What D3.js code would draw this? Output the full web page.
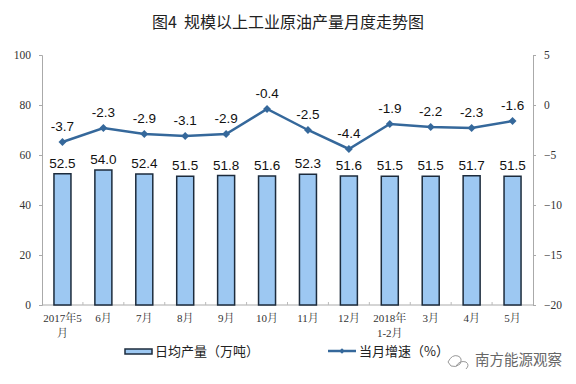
<!DOCTYPE html>
<html><head><meta charset="utf-8">
<script src="https://cdn.jsdelivr.net/npm/d3@7"></script>
<style>body{margin:0;background:#fff}svg{display:block}</style>
</head><body>
<script>
const categories = ["2017年5|月","6月","7月","8月","9月","10月","11月","12月","2018年|1-2月","3月","4月","5月"];
const dailyOutput = [52.5,54.0,52.4,51.5,51.8,51.6,52.3,51.6,51.5,51.5,51.7,51.5];
const growth = [-3.7,-2.3,-2.9,-3.1,-2.9,-0.4,-2.5,-4.4,-1.9,-2.2,-2.3,-1.6];
const leftTicks = [0,20,40,60,80,100];
const rightTicks = [5,0,-5,-10,-15,-20];
const title = "图4\u00a0\u00a0规模以上工业原油产量月度走势图";
const legendBar = "日均产量（万吨）";
const legendLine = "当月增速（%）";
const watermark = "南方能源观察";

const W=576,H=384;
const svg=d3.select("body").append("svg").attr("width",W).attr("height",H);
const L=42,R=533,T=55,B=305;
const x=d3.scaleBand().domain(categories).range([L,R]);
const yL=d3.scaleLinear().domain([0,100]).range([B,T]);
const yR=d3.scaleLinear().domain([-20,5]).range([B,T]);
const serif="'Liberation Serif','Noto Serif CJK SC','Noto Sans CJK SC',serif";
const sans="'Liberation Sans','Noto Sans CJK SC',sans-serif";
const cjk="'Noto Sans CJK SC',sans-serif";

svg.append("text").attr("x",288).attr("y",28).attr("text-anchor","middle")
  .attr("font-family",cjk).attr("font-size",16).attr("font-weight",400).attr("fill","#222").text(title);

// left axis
const gl=svg.append("g").attr("transform",`translate(${L},0)`)
  .call(d3.axisLeft(yL).tickValues(leftTicks).tickSize(3).tickPadding(8));
gl.select(".domain").attr("stroke","#aaa");
gl.selectAll(".tick line").attr("stroke","#aaa");
gl.selectAll("text").attr("font-family",serif).attr("font-size",11.5).attr("fill","#333");

const gr=svg.append("g").attr("transform",`translate(${R},0)`)
  .call(d3.axisRight(yR).tickValues(rightTicks).tickSize(3).tickPadding(8));
gr.select(".domain").attr("stroke","#aaa");
gr.selectAll(".tick line").attr("stroke","#aaa");
gr.selectAll("text").attr("font-family",serif).attr("font-size",11.5).attr("fill","#333");

// bottom axis
svg.append("line").attr("x1",L).attr("x2",R).attr("y1",B).attr("y2",B).attr("stroke","#aaa");
svg.selectAll(".bt").data(categories.slice(1)).enter().append("line")
  .attr("x1",d=>x(d)).attr("x2",d=>x(d)).attr("y1",B).attr("y2",B-3).attr("stroke","#bbb");

const bw=17;
svg.selectAll(".bar").data(dailyOutput).enter().append("rect")
  .attr("x",(d,i)=>x(categories[i])+x.bandwidth()/2-bw/2)
  .attr("width",bw).attr("y",d=>yL(d)).attr("height",d=>B-yL(d))
  .attr("fill","#9dc8f2").attr("stroke","#1c2b3c").attr("stroke-width",1.5);
svg.selectAll(".bl").data(dailyOutput).enter().append("text")
  .attr("x",(d,i)=>x(categories[i])+x.bandwidth()/2).attr("y",d=>yL(d)-6)
  .attr("text-anchor","middle").attr("font-family",sans).attr("font-size",13.5).attr("fill","#111")
  .text(d=>d.toFixed(1));

const line=d3.line().x((d,i)=>x(categories[i])+x.bandwidth()/2).y(d=>yR(d));
svg.append("path").datum(growth).attr("d",line).attr("fill","none").attr("stroke","#35689b").attr("stroke-width",2.5);
svg.selectAll(".pt").data(growth).enter().append("path")
  .attr("d",d3.symbol(d3.symbolDiamond2,40))
  .attr("transform",(d,i)=>`translate(${x(categories[i])+x.bandwidth()/2},${yR(d)})`)
  .attr("fill","#35689b");
svg.selectAll(".ll").data(growth).enter().append("text")
  .attr("x",(d,i)=>x(categories[i])+x.bandwidth()/2).attr("y",d=>yR(d)-11)
  .attr("text-anchor","middle").attr("font-family",sans).attr("font-size",13.5).attr("fill","#111")
  .text(d=>d.toFixed(1));

// x labels
categories.forEach(c=>{
  const parts=c.split("|");
  const t=svg.append("text").attr("text-anchor","middle").attr("font-family",serif).attr("font-size",11).attr("fill","#333");
  parts.forEach((p,j)=>t.append("tspan").attr("x",x(c)+x.bandwidth()/2).attr("y",322+j*15).text(p));
});

// legend
svg.append("rect").attr("x",125).attr("y",349).attr("width",27).attr("height",5).attr("fill","#9dc8f2").attr("stroke","#1c2b3c").attr("stroke-width",1.5);
svg.append("text").attr("x",155).attr("y",356).attr("font-family",cjk).attr("font-size",13).attr("fill","#222").text(legendBar);
svg.append("line").attr("x1",328).attr("x2",356).attr("y1",351).attr("y2",351).attr("stroke","#35689b").attr("stroke-width",2.5);
svg.append("path").attr("d",d3.symbol(d3.symbolDiamond2,20)).attr("transform","translate(342,351)").attr("fill","#35689b");
svg.append("text").attr("x",359).attr("y",356).attr("font-family",cjk).attr("font-size",13).attr("fill","#222").text(legendLine);

// watermark
const wm=svg.append("g").attr("fill","none").attr("stroke","#999").attr("stroke-width",1);
wm.append("path").attr("d","M448,362 q4,-8 10,-6 q5,2 2,8 q-4,4 -9,2 z");
wm.append("path").attr("d","M456,366 q4,-6 10,-4 q4,3 0,7");
svg.append("text").attr("x",475).attr("y",365).attr("font-family",cjk).attr("font-size",14.5).attr("fill","#666").text(watermark);
</script>
</body></html>
